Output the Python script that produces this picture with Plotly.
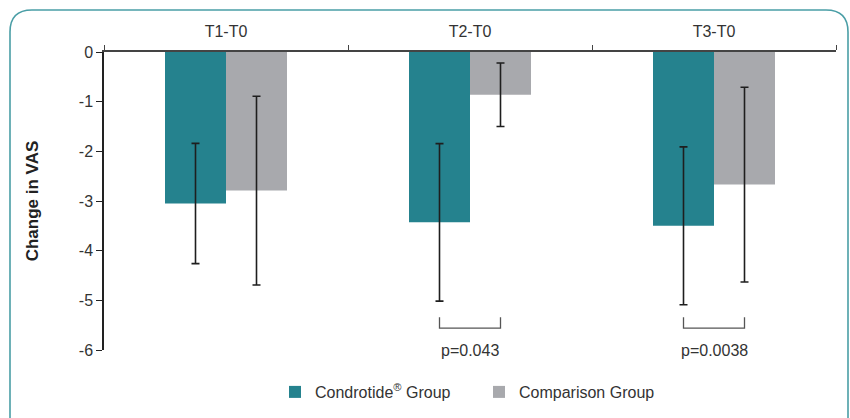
import plotly.graph_objects as go

categories = ["T1-T0", "T2-T0", "T3-T0"]
condrotide = [-3.05, -3.43, -3.50]
condrotide_err = [1.21, 1.585, 1.59]
comparison = [-2.79, -0.86, -2.67]
comparison_err = [1.90, 0.64, 1.96]
p_labels = ["", "p=0.043", "p=0.0038"]

W, H = 850, 418
L, R, T, B = 104, 14, 52, 68
PW, PH = W - L - R, H - T - B

def px(x):
    return (x - L) / PW

def py(y):
    return (H - B - y) / PH

TEAL = "#25828e"
GRAY = "#a8a9ad"
FONT = "Liberation Sans, Arial, sans-serif"
TXT = "#333333"

fig = go.Figure()
fig.add_trace(go.Bar(
    x=categories, y=condrotide, name="Condrotide<sup>®</sup> Group",
    marker=dict(color=TEAL, line=dict(width=0)),
    error_y=dict(type="data", array=condrotide_err, color="#1e1e1e", thickness=1.6, width=4),
))
fig.add_trace(go.Bar(
    x=categories, y=comparison, name="Comparison Group",
    marker=dict(color=GRAY, line=dict(width=0)),
    error_y=dict(type="data", array=comparison_err, color="#1e1e1e", thickness=1.6, width=4),
))

shapes = []
annotations = []
for i, lab in enumerate(p_labels):
    if not lab:
        continue
    xa, xb = i - 0.125, i + 0.125
    shapes.append(dict(type="path", xref="x", yref="y",
                       path=f"M{xa},-5.34 L{xa},-5.56 L{xb},-5.56 L{xb},-5.34",
                       line=dict(color="#555555", width=1.3)))
    annotations.append(dict(x=i, y=-6.0, xref="x", yref="y", text=lab, showarrow=False,
                            font=dict(family=FONT, size=16, color=TXT), yanchor="middle"))

# rounded border
x0, y0, x1, y1, r = 10, 10, 848, 428, 22
path = (f"M{px(x0)},{py(y1)} L{px(x0)},{py(y0 + r)} "
        f"Q{px(x0)},{py(y0)} {px(x0 + r)},{py(y0)} "
        f"L{px(x1 - r)},{py(y0)} Q{px(x1)},{py(y0)} {px(x1)},{py(y0 + r)} "
        f"L{px(x1)},{py(y1)}")
shapes.append(dict(type="path", xref="paper", yref="paper", path=path,
                   line=dict(color="#4a9ea6", width=1.6), layer="below"))

fig.update_layout(
    width=W, height=H,
    margin=dict(l=L, r=R, t=T, b=B, autoexpand=False),
    paper_bgcolor="white", plot_bgcolor="white",
    barmode="group", bargap=0.5, bargroupgap=0,
    font=dict(family=FONT, size=16, color=TXT),
    showlegend=True,
    legend=dict(orientation="h", x=px(275), xanchor="left", y=py(392), yanchor="middle",
                font=dict(family=FONT, size=16, color=TXT), itemwidth=30,
                entrywidth=159, entrywidthmode="pixels",
                traceorder="normal"),
    xaxis=dict(side="top", showline=True, linecolor="#444444", linewidth=1.5,
               ticks="outside", tickson="boundaries", ticklen=5, tickcolor="#444444",
               tickwidth=1.3, showgrid=False, zeroline=False, ticklabelstandoff=7,
               tickfont=dict(family=FONT, size=16, color=TXT)),
    yaxis=dict(range=[-6, 0], tickvals=[0, -1, -2, -3, -4, -5, -6],
               ticktext=["0", "-1", "-2", "-3", "-4", "-5", "-6"],
               showline=True, linecolor="#222222", linewidth=1.5,
               ticks="outside", ticklen=6, tickcolor="#222222", tickwidth=1.3,
               showgrid=False, zeroline=False,
               tickfont=dict(family=FONT, size=16, color=TXT),
               title=dict(text="<b>Change in VAS</b>", standoff=36,
                          font=dict(family=FONT, size=17, color="#222222"))),
    shapes=shapes,
    annotations=annotations,
)

fig.write_html("out.html", config={"displayModeBar": False},
               post_script="document.body.style.margin='0';document.body.style.overflow='hidden';")
